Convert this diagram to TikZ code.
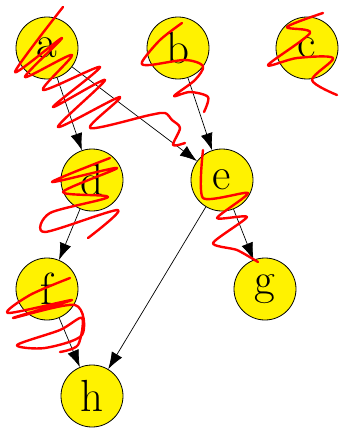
\documentclass[tikz,border=0pt]{standalone}
\usetikzlibrary{arrows.meta}
\begin{document}
\begin{tikzpicture}[x=1pt,y=-1pt,
  vnode/.style={circle,draw=black,fill=yellow,line width=0.8pt,minimum size=62pt,inner sep=0pt,font=\fontsize{45}{48}\selectfont},
  edge/.style={line width=0.7pt,-{Latex[length=17pt,width=12pt]}},
  scrib/.style={red,line width=2.4pt,line cap=round,line join=round}]
\useasboundingbox (0,0) rectangle (339,428);
\node[vnode] (a) at (47,48) {a};
\node[vnode] (b) at (178,48) {b};
\node[vnode] (c) at (307,48) {c};
\node[vnode] (d) at (92,180) {d};
\node[vnode] (e) at (222,180) {e};
\node[vnode] (f) at (47,289) {f};
\node[vnode] (g) at (265,289) {g};
\node[vnode] (h) at (92,396) {h};
\draw[edge] (a) -- (d);
\draw[edge] (a) -- (e);
\draw[edge] (b) -- (e);
\draw[edge] (d) -- (f);
\draw[edge] (e) -- (g);
\draw[edge] (e) -- (h);
\draw[edge] (f) -- (h);
% scribbles
\draw[scrib] plot[smooth,tension=0.5] coordinates {(63,7) (15,72) (62,38) (25,77) (72,55) (43,90) (100,67) (53,107) (105,80) (58,127) (120,97) (90,128) (150,115) (165,113) (172,120) (180,128) (173,145) (185,143)};
\draw[scrib] plot[smooth,tension=0.5] coordinates {(182,23) (160,40) (142,62) (150,65) (185,60) (203,66) (195,80) (174,96) (190,92) (208,97) (204,112)};
\draw[scrib] plot[smooth,tension=0.5] coordinates {(323,13) (287,27) (310,33) (268,65) (297,58) (333,58) (312,80) (337,95)};
\draw[scrib] plot[smooth,tension=0.4] coordinates {(203,150) (203,198) (248,193) (217,218) (247,217) (213,243) (237,250) (258,262)};
\draw[scrib] plot[smooth,tension=0.5] coordinates {(110,158) (52,182) (117,168) (63,192) (108,197) (50,213) (45,232) (118,210) (88,238)};
\draw[scrib] plot[smooth,tension=0.5] coordinates {(70,278) (30,295) (8,313) (72,300) (13,318) (75,305) (82,335) (45,348) (17,345) (60,330) (82,318) (78,345) (60,352)};
\end{tikzpicture}
\end{document}
